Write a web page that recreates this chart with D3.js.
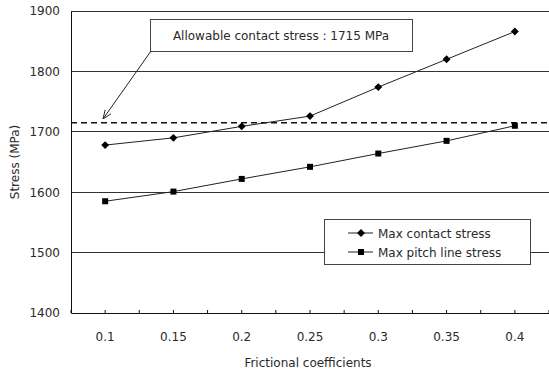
<!DOCTYPE html>
<html><head><meta charset="utf-8">
<script src="https://cdn.jsdelivr.net/npm/d3@7"></script>
<style>body{margin:0;background:#fff}text{font-family:"DejaVu Sans",sans-serif;fill:#2a2a2a}</style>
</head><body><svg id="c" width="549" height="376"></svg>
<script>
const categories = ["0.1","0.15","0.2","0.25","0.3","0.35","0.4"];
const contactStress = [1678, 1690, 1709, 1726, 1774, 1820, 1866];
const pitchStress = [1585, 1601, 1622, 1642, 1664, 1685, 1710];
const yTicks = [1400, 1500, 1600, 1700, 1800, 1900];
const allowable = 1715;
const seriesNames = ["Max contact stress", "Max pitch line stress"];
const annotation = "Allowable contact stress : 1715 MPa";

const FS = "12px";
const svg = d3.select("#c");
const L = 71, R = 549, T = 11, B = 313;
const x = d3.scaleBand().domain(categories).range([L, R]);
const y = d3.scaleLinear().domain([1400, 1900]).range([B, T]);

// gridlines
svg.append("g").selectAll("line").data(yTicks.slice(1)).join("line")
  .attr("x1", L).attr("x2", R).attr("y1", d => y(d)).attr("y2", d => y(d))
  .attr("stroke", "#333").attr("stroke-width", 1).attr("shape-rendering","crispEdges");

// y axis
const ya = svg.append("g").attr("transform", `translate(${L},0)`)
  .call(d3.axisLeft(y).tickValues(yTicks).tickSize(0).tickPadding(11).tickFormat(d3.format("d")));
ya.select(".domain").attr("stroke", "#111");
ya.selectAll("text").style("font-size", FS).attr("fill", "#2a2a2a");

// x axis
const xa = svg.append("g").attr("transform", `translate(0,${B})`)
  .call(d3.axisBottom(x).tickSize(0).tickPadding(19));
xa.select(".domain").attr("stroke", "#111");
xa.selectAll("text").style("font-size", FS).attr("fill", "#2a2a2a");
// small inner ticks at half-band intervals
const half = x.bandwidth() / 2;
const tickPos = d3.range(0, categories.length * 2 + 1).map(i => L + i * half);
svg.append("g").selectAll("line").data(tickPos).join("line")
  .attr("x1", d => d).attr("x2", d => d).attr("y1", B).attr("y2", B - 3)
  .attr("stroke", "#111");

// axis titles
svg.append("text").attr("x", 308).attr("y", 367).attr("text-anchor", "middle")
  .style("font-size", FS).text("Frictional coefficients");
svg.append("text").attr("transform", `translate(19,${(T + B) / 2}) rotate(-90)`)
  .attr("text-anchor", "middle").style("font-size", FS).text("Stress (MPa)");

// allowable dashed line
svg.append("line").attr("x1", L).attr("x2", R).attr("y1", y(allowable)).attr("y2", y(allowable))
  .attr("stroke", "#111").attr("stroke-width", 1.5).attr("stroke-dasharray", "6,4");

const cx = d => x(d) + half;
const line = d3.line().x((d, i) => cx(categories[i])).y(d => y(d));

// series
svg.append("path").datum(contactStress).attr("d", line).attr("fill", "none").attr("stroke", "#222").attr("stroke-width", 1);
svg.append("path").datum(pitchStress).attr("d", line).attr("fill", "none").attr("stroke", "#222").attr("stroke-width", 1);
const diamond = d3.symbol().type(d3.symbolDiamond2).size(40);
const square = d3.symbol().type(d3.symbolSquare).size(36);
svg.append("g").selectAll("path").data(contactStress).join("path")
  .attr("d", diamond).attr("transform", (d, i) => `translate(${cx(categories[i])},${y(d)})`).attr("fill", "#000");
svg.append("g").selectAll("path").data(pitchStress).join("path")
  .attr("d", square).attr("transform", (d, i) => `translate(${cx(categories[i])},${y(d)})`).attr("fill", "#000");

// annotation box + arrow
svg.append("defs").append("marker").attr("id", "ah").attr("viewBox", "0 0 10 10")
  .attr("refX", 10).attr("refY", 5).attr("markerWidth", 9).attr("markerHeight", 9).attr("orient", "auto")
  .append("path").attr("d", "M0,1 L10,5 L0,9").attr("fill", "none").attr("stroke", "#222").attr("stroke-width", 1);
svg.append("rect").attr("x", 150.5).attr("y", 19.5).attr("width", 262).attr("height", 32)
  .attr("fill", "#fff").attr("stroke", "#444");
svg.append("text").attr("x", 281).attr("y", 40).attr("text-anchor", "middle")
  .style("font-size", FS).text(annotation);
svg.append("line").attr("x1", 151).attr("y1", 51).attr("x2", 103).attr("y2", 119)
  .attr("stroke", "#222").attr("stroke-width", 1).attr("marker-end", "url(#ah)");

// legend
svg.append("rect").attr("x", 324.5).attr("y", 219.5).attr("width", 206).attr("height", 45)
  .attr("fill", "#fff").attr("stroke", "#444");
const lg = svg.append("g").selectAll("g").data(seriesNames).join("g")
  .attr("transform", (d, i) => `translate(348,${233 + i * 19})`);
lg.append("line").attr("x1", 0).attr("x2", 25).attr("stroke", "#222");
lg.append("path").attr("d", (d, i) => i === 0 ? diamond() : square())
  .attr("transform", "translate(13,0)").attr("fill", "#000");
lg.append("text").attr("x", 30).attr("y", 5).style("font-size", FS).text(d => d);
</script></body></html>
